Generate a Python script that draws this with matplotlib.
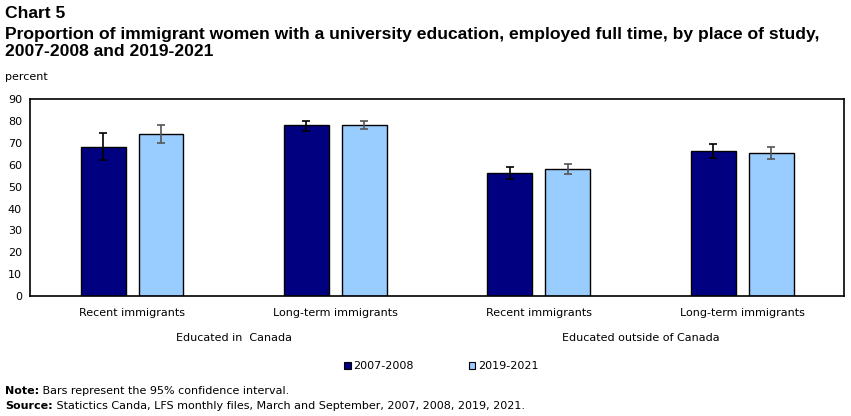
import numpy as np
import matplotlib.pyplot as plt

# data
categories = ["Recent immigrants", "Long-term immigrants",
              "Recent immigrants", "Long-term immigrants"]
groups = ["Educated in  Canada", "Educated outside of Canada"]
series = ["2007-2008", "2019-2021"]

val_0708 = [68.4, 78.1, 56.5, 66.5]
lo_0708 = [62.4, 75.7, 53.7, 63.3]
hi_0708 = [74.7, 80.2, 58.9, 69.7]

val_1921 = [74.3, 78.4, 58.3, 65.6]
lo_1921 = [70.2, 76.6, 56.0, 62.9]
hi_1921 = [78.4, 80.2, 60.6, 68.4]

yticks = list(range(0, 91, 10))

dark = "#000080"
light = "#99CCFF"

plt.rcParams['font.family'] = ['DejaVu Sans']

fig = plt.figure(figsize=(8.51, 4.16), dpi=100)
ax = fig.add_axes([30.3 / 851, 1 - 296 / 416, (844 - 30.3) / 851, (296 - 99.3) / 416])

x = np.arange(len(categories)) + 0.5
w = 0.221
off = 0.1425

v1 = np.array(val_0708)
v2 = np.array(val_1921)
err1 = [v1 - np.array(lo_0708), np.array(hi_0708) - v1]
err2 = [v2 - np.array(lo_1921), np.array(hi_1921) - v2]

ax.bar(x - off, v1, w, color=dark, edgecolor="black", linewidth=1, label=series[0], zorder=2)
ax.bar(x + off, v2, w, color=light, edgecolor="black", linewidth=1, label=series[1], zorder=2)
ax.errorbar(x - off, v1, yerr=err1, fmt="none", ecolor="black", elinewidth=1.2, capsize=3, capthick=1.2, zorder=3)
ax.errorbar(x + off, v2, yerr=err2, fmt="none", ecolor="#555555", elinewidth=1.2, capsize=3, capthick=1.2, zorder=3)

ax.set_xlim(0, 4)
ax.set_ylim(0, 90)
ax.set_yticks(yticks)
ax.set_xticks(x)
ax.set_xticklabels(categories, fontsize=8)
ax.tick_params(axis="both", length=0, labelsize=8, pad=6)
ax.tick_params(axis="x", pad=9)
for s in ax.spines.values():
    s.set_linewidth(1.2)

# group labels under the category labels
for i, g in enumerate(groups):
    ax.text(1 + 2 * i, -0.215, g, transform=ax.get_xaxis_transform(), ha="center", va="center", fontsize=8)

# titles (narrower face so the long line fits like the reference)
tfont = dict(family="Liberation Sans", fontsize=12.6, fontweight="bold", va="center", ha="left")
fig.text(5 / 851, 1 - 14 / 416, "Chart 5", **tfont)
fig.text(5 / 851, 1 - 35 / 416,
         "Proportion of immigrant women with a university education, employed full time, by place of study,", **tfont)
fig.text(5 / 851, 1 - 52 / 416, "2007-2008 and 2019-2021", **tfont)
fig.text(5 / 851, 1 - 77 / 416, "percent", fontsize=8, va="center", ha="left")

leg = fig.legend(loc="center", bbox_to_anchor=(441 / 851, 1 - 366 / 416), ncol=2, frameon=False,
                 fontsize=8, handlelength=0.6, handleheight=0.6, handletextpad=0.2, columnspacing=5)
for h in leg.legend_handles:
    h.set_linewidth(0.8)

# notes: bold lead-in, then normal text right after it
renderer = fig.canvas.get_renderer()
for yy, lead, rest in [(391, "Note:", " Bars represent the 95% confidence interval."),
                       (406, "Source:", " Statictics Canda, LFS monthly files, March and September, 2007, 2008, 2019, 2021.")]:
    t = fig.text(5 / 851, 1 - yy / 416, lead, fontsize=8, fontweight="bold", va="center")
    bb = t.get_window_extent(renderer)
    fig.text(bb.x1 / 851, 1 - yy / 416, rest, fontsize=8, va="center")

fig.savefig("out.png", dpi=100)
